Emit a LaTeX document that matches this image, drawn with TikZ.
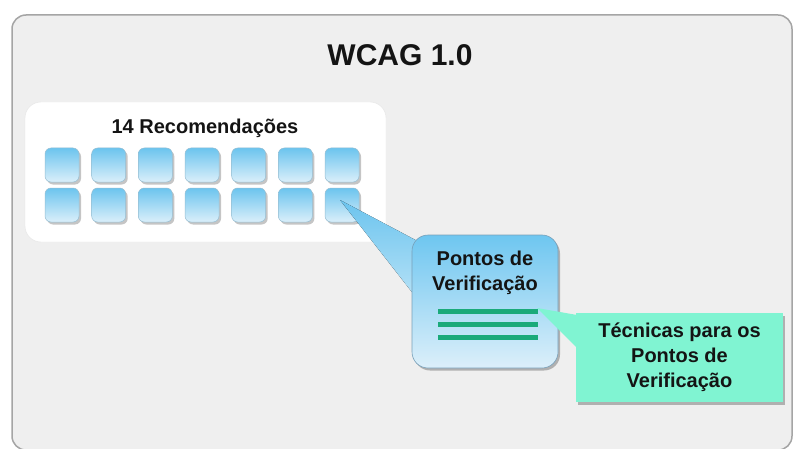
\documentclass[tikz,border=0pt]{standalone}
\usepackage{fontspec}
\setmainfont{Liberation Sans}
\usetikzlibrary{shadows,calc}
\definecolor{panelbg}{RGB}{239,239,239}
\definecolor{panelline}{RGB}{165,165,165}
\definecolor{sqtop}{RGB}{108,196,238}
\definecolor{sqbot}{RGB}{218,239,250}
\definecolor{sqline}{RGB}{150,190,210}
\definecolor{pvtop}{RGB}{110,198,240}
\definecolor{pvbot}{RGB}{220,239,250}
\definecolor{pvline}{RGB}{120,160,185}
\definecolor{gline}{RGB}{26,170,122}
\definecolor{tpfill}{RGB}{128,244,210}
\definecolor{txt}{RGB}{20,20,20}
\tikzset{
  panel/.style={draw=panelline, line width=1.5pt, fill=panelbg, rounded corners=14pt},
  whitebox/.style={fill=white, draw=black!10, rounded corners=16pt, minimum width=361pt, minimum height=140pt, inner sep=0pt},
  sq/.style={minimum width=34pt, minimum height=34pt, inner sep=0pt, rounded corners=6pt,
    top color=sqtop, bottom color=sqbot, draw=sqline, line width=0.5pt,
    drop shadow={shadow xshift=2pt, shadow yshift=-2.5pt, fill=black!50, opacity=0.45}},
  pvbox/.style={minimum width=146pt, minimum height=133pt, inner sep=0pt, rounded corners=16pt,
    top color=pvtop, bottom color=pvbot, draw=pvline, line width=0.6pt,
    drop shadow={shadow xshift=2pt, shadow yshift=-2.5pt, fill=black!55, opacity=0.5}},
  tpbox/.style={minimum width=207pt, minimum height=89pt, inner sep=0pt, fill=tpfill, align=center,
    text=txt, font=\fontsize{20}{25}\selectfont\bfseries,
    drop shadow={shadow xshift=2pt, shadow yshift=-2.5pt, fill=black!55, opacity=0.5}},
  lbl/.style={text=txt, font=\fontsize{20}{25}\selectfont\bfseries, align=center, inner sep=0pt},
  ttl/.style={text=txt, font=\fontsize{30}{36}\selectfont\bfseries, inner sep=0pt},
  gbar/.style={draw=gline, line width=5pt},
  wedgeA/.style={top color=sqtop, bottom color=sqtop!35!white},
  wedgeB/.style={fill=tpfill}
}
\begin{document}
\begin{tikzpicture}[x=1pt,y=-1pt]
\useasboundingbox (0,0) rectangle (794,449);
\clip (0,0) rectangle (794,449);
\fill[white] (0,0) rectangle (794,449);
% outer panel
\draw[panel] (12,15) rectangle (792,450);
\node[ttl] (title) at (400,55) {WCAG 1.0};
% recommendations box
\node[whitebox] (rec) at (205.5,172) {};
\node[lbl] (rectxt) at (205,128) {14 Recomendações};
\foreach \i [evaluate=\i as \x using 62+46.67*\i] in {0,...,6} {
  \node[sq] (ra\i) at (\x,165) {};
  \node[sq] (rb\i) at (\x,205) {};
}
% callout wedge to checkpoints
\coordinate (tipA) at ($(rb6.center)+(-2,-5)$);
\coordinate (wa1) at (440,253);
\coordinate (wa2) at (440,328);
\fill[wedgeA] (tipA) -- (wa1) -- (wa2) -- cycle;
% checkpoints box
\node[pvbox] (pv) at (485,301.5) {};
\node[lbl] (pvtxt) at (485,272.5) {Pontos de\\Verificação};
\coordinate (g1) at (438,311);
\coordinate (g2) at (438,324);
\coordinate (g3) at (438,337);
\draw[gbar] (g1) -- ++(100,0);
\draw[gbar] (g2) -- ++(100,0);
\draw[gbar] (g3) -- ++(100,0);
% callout wedge to techniques
\coordinate (tipB) at (537,308);
\coordinate (wb1) at (600,319);
\coordinate (wb2) at (600,371);
\fill[wedgeB] (tipB) -- (wb1) -- (wb2) -- cycle;
\node[tpbox] (tp) at (679.5,357.5) {Técnicas para os\\Pontos de\\Verificação};
\end{tikzpicture}
\end{document}
